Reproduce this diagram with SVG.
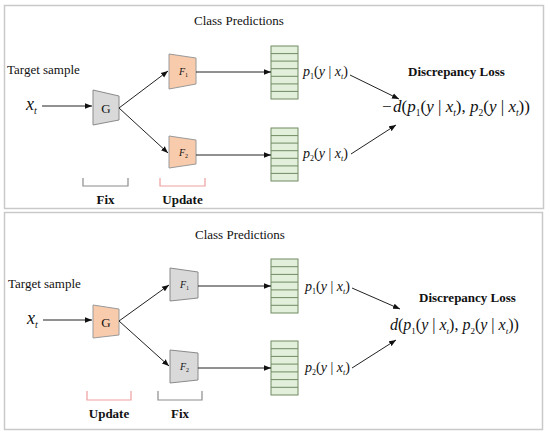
<svg xmlns="http://www.w3.org/2000/svg" width="550" height="437" viewBox="0 0 550 437">
<defs>
<marker id="ah" viewBox="0 0 10 10" refX="10" refY="5" markerWidth="7" markerHeight="7" markerUnits="userSpaceOnUse" orient="auto"><path d="M0,1 L10,5 L0,9 z" fill="#111"/></marker>
</defs>
<style>
.panel{fill:#fff;stroke:#c9c9c9;stroke-width:1.5}
.edge{stroke:#222;stroke-width:1;fill:none;marker-end:url(#ah)}
.gray{fill:#d9d9d9;stroke:#8a8a8a;stroke-width:1}
.orange{fill:#f8cbad;stroke:#9a9a9a;stroke-width:1}
.tbl{fill:#e2efda;stroke:#6f8a62;stroke-width:1}
.row{stroke:#6f8a62;stroke-width:1}
.lbl{font-family:"Liberation Serif","Times New Roman",serif;font-size:13px;fill:#111}
.bold{font-family:"Liberation Serif","Times New Roman",serif;font-size:13px;font-weight:bold;fill:#111}
.math{font-family:"Liberation Serif","Times New Roman",serif;fill:#111}
.it{font-style:italic}
.fixb{fill:none;stroke:#8c8c8c;stroke-width:1.2}
.updb{fill:none;stroke:#ef9f9f;stroke-width:1.2}
</style>
<rect class="panel" x="4.5" y="5.5" width="539" height="203"/>
<rect class="panel" x="4.5" y="212.5" width="538" height="217"/>

<!-- TOP PANEL -->
<g id="top-labels">
<text class="lbl" x="194" y="25">Class Predictions</text>
<text class="lbl" x="7" y="74">Target sample</text>
<text class="math it" x="26" y="110" font-size="18">x<tspan font-size="10" dy="4">t</tspan></text>
</g>
<g id="top-G"><polygon class="gray" points="93,90 119,96 119,120 93,125"/><text class="lbl" x="106" y="112.5" text-anchor="middle" font-size="13">G</text></g>
<g id="top-F1"><polygon class="orange" points="169,54 196,58 196,84 169,89"/><text class="math it" x="179" y="75" font-size="10">F<tspan font-size="6" dy="2" font-style="normal">1</tspan></text></g>
<g id="top-F2"><polygon class="orange" points="169,136 196,140 196,164 169,168"/><text class="math it" x="179" y="156" font-size="10">F<tspan font-size="6" dy="2" font-style="normal">2</tspan></text></g>
<g id="top-T1"><rect class="tbl" x="271" y="46" width="27" height="53"/><path class="row" d="M271,53.6H298M271,61.1H298M271,68.7H298M271,76.3H298M271,83.9H298M271,91.4H298"/></g>
<g id="top-T2"><rect class="tbl" x="271" y="128" width="27" height="53"/><path class="row" d="M271,135.6H298M271,143.1H298M271,150.7H298M271,158.3H298M271,165.9H298M271,173.4H298"/></g>
<g id="top-p1"><text class="math" x="303" y="76" font-size="14"><tspan class="it">p</tspan><tspan font-size="8" dy="3">1</tspan><tspan dy="-3">(</tspan><tspan class="it">y</tspan> | <tspan class="it">x</tspan><tspan class="it" font-size="8" dy="3">t</tspan><tspan dy="-3">)</tspan></text></g>
<g id="top-p2"><text class="math" x="303" y="158" font-size="14"><tspan class="it">p</tspan><tspan font-size="8" dy="3">2</tspan><tspan dy="-3">(</tspan><tspan class="it">y</tspan> | <tspan class="it">x</tspan><tspan class="it" font-size="8" dy="3">t</tspan><tspan dy="-3">)</tspan></text></g>
<g id="top-loss"><text class="bold" x="408" y="76" font-size="12.5">Discrepancy Loss</text>
<text class="math" x="382" y="112" font-size="17">−<tspan class="it" dx="1.5">d</tspan>(<tspan class="it">p</tspan><tspan font-size="9.5" dy="3.5">1</tspan><tspan dy="-3.5">(</tspan><tspan class="it">y</tspan> | <tspan class="it">x</tspan><tspan class="it" font-size="9.5" dy="3.5">t</tspan><tspan dy="-3.5">), </tspan><tspan class="it">p</tspan><tspan font-size="9.5" dy="3.5">2</tspan><tspan dy="-3.5">(</tspan><tspan class="it">y</tspan> | <tspan class="it">x</tspan><tspan class="it" font-size="9.5" dy="3.5">t</tspan><tspan dy="-3.5">))</tspan></text></g>
<g id="top-brackets"><path class="fixb" d="M83,178V186H128V178"/><path class="updb" d="M160,178V186H205V178"/>
<text class="bold" x="105.5" y="204" text-anchor="middle">Fix</text><text class="bold" x="182.5" y="204" text-anchor="middle">Update</text></g>

<!-- BOTTOM PANEL -->
<g id="bot-labels">
<text class="lbl" x="195" y="239">Class Predictions</text>
<text class="lbl" x="8" y="288">Target sample</text>
<text class="math it" x="27" y="324" font-size="18">x<tspan font-size="10" dy="4">t</tspan></text>
</g>
<g id="bot-G"><polygon class="orange" points="93,305 119,309 119,335 93,338"/><text class="lbl" x="106" y="326.5" text-anchor="middle" font-size="13">G</text></g>
<g id="bot-F1"><polygon class="gray" points="170,268 198,272 198,298 170,301"/><text class="math it" x="180" y="288" font-size="10">F<tspan font-size="6" dy="2" font-style="normal">1</tspan></text></g>
<g id="bot-F2"><polygon class="gray" points="170,350 198,353 198,380 170,383"/><text class="math it" x="180" y="370" font-size="10">F<tspan font-size="6" dy="2" font-style="normal">2</tspan></text></g>
<g id="bot-T1"><rect class="tbl" x="271" y="259" width="27" height="54"/><path class="row" d="M271,266.7H298M271,274.4H298M271,282.1H298M271,289.9H298M271,297.6H298M271,305.3H298"/></g>
<g id="bot-T2"><rect class="tbl" x="271" y="341" width="27" height="54"/><path class="row" d="M271,348.7H298M271,356.4H298M271,364.1H298M271,371.9H298M271,379.6H298M271,387.3H298"/></g>
<g id="bot-p1"><text class="math" x="305" y="291" font-size="14"><tspan class="it">p</tspan><tspan font-size="8" dy="3">1</tspan><tspan dy="-3">(</tspan><tspan class="it">y</tspan> | <tspan class="it">x</tspan><tspan class="it" font-size="8" dy="3">t</tspan><tspan dy="-3">)</tspan></text></g>
<g id="bot-p2"><text class="math" x="305" y="372" font-size="14"><tspan class="it">p</tspan><tspan font-size="8" dy="3">2</tspan><tspan dy="-3">(</tspan><tspan class="it">y</tspan> | <tspan class="it">x</tspan><tspan class="it" font-size="8" dy="3">t</tspan><tspan dy="-3">)</tspan></text></g>
<g id="bot-loss"><text class="bold" x="419" y="302" font-size="12.5">Discrepancy Loss</text>
<text class="math" x="390" y="330" font-size="16"><tspan class="it">d</tspan>(<tspan class="it">p</tspan><tspan font-size="9" dy="3.5">1</tspan><tspan dy="-3.5">(</tspan><tspan class="it">y</tspan> | <tspan class="it">x</tspan><tspan class="it" font-size="9" dy="3.5">t</tspan><tspan dy="-3.5">), </tspan><tspan class="it">p</tspan><tspan font-size="9" dy="3.5">2</tspan><tspan dy="-3.5">(</tspan><tspan class="it">y</tspan> | <tspan class="it">x</tspan><tspan class="it" font-size="9" dy="3.5">t</tspan><tspan dy="-3.5">))</tspan></text></g>
<g id="bot-brackets"><path class="updb" d="M87,391V400H131V391"/><path class="fixb" d="M158,391V400H202V391"/>
<text class="bold" x="109" y="418" text-anchor="middle">Update</text><text class="bold" x="180" y="418" text-anchor="middle">Fix</text></g>

<g id="connectors">
<line class="edge" x1="42" y1="106" x2="92" y2="106"/>
<line class="edge" x1="119" y1="108" x2="168" y2="71"/>
<line class="edge" x1="119" y1="108" x2="168" y2="153"/>
<line class="edge" x1="196" y1="72" x2="271" y2="72"/>
<line class="edge" x1="196" y1="155" x2="271" y2="155"/>
<line class="edge" x1="350" y1="75" x2="399" y2="99"/>
<line class="edge" x1="351" y1="154" x2="396" y2="125"/>
<line class="edge" x1="43" y1="320" x2="92" y2="320"/>
<line class="edge" x1="119" y1="321" x2="169" y2="285"/>
<line class="edge" x1="119" y1="321" x2="169" y2="366"/>
<line class="edge" x1="198" y1="286" x2="271" y2="286"/>
<line class="edge" x1="198" y1="368" x2="271" y2="368"/>
<line class="edge" x1="352" y1="288" x2="400" y2="309"/>
<line class="edge" x1="352" y1="368" x2="396" y2="340"/>
</g>
</svg>
